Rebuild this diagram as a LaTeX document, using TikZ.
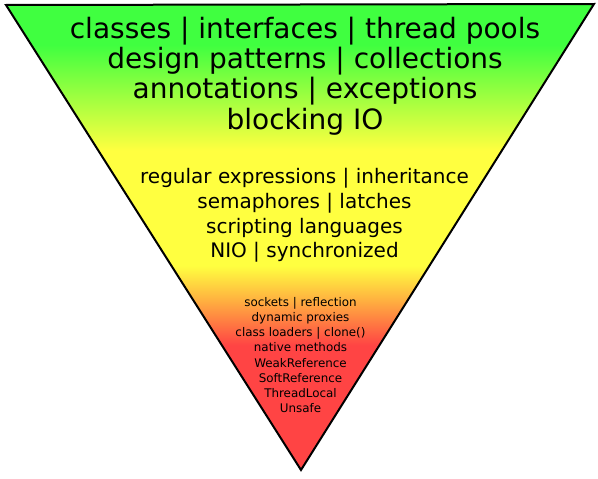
\documentclass[tikz,border=0pt]{standalone}
\usepackage{fontspec}
\setmainfont{DejaVu Sans}
\definecolor{pgreen}{HTML}{40FF40}
\definecolor{pyellow}{HTML}{FFFF40}
\definecolor{porange}{HTML}{FFB040}
\definecolor{pred}{HTML}{FF4444}
\pgfdeclareverticalshading{pyramid}{100bp}{%
  color(0bp)=(pred); color(25bp)=(pred); color(38.4bp)=(pred);
  color(43.2bp)=(porange); color(46.9bp)=(pyellow); color(59.3bp)=(pyellow);
  color(70.6bp)=(pgreen); color(75bp)=(pgreen); color(100bp)=(pgreen)}
\tikzset{
  lvl/.style={align=center, inner sep=0pt, text=black},
}
\begin{document}
\begin{tikzpicture}[x=1pt,y=-1pt]
\useasboundingbox (0,0) rectangle (598,479);
\coordinate (tl) at (6,5);
\coordinate (tr) at (594,4);
\coordinate (bt) at (301,470);
\shade[shading=pyramid] (tl) -- (tr) -- (bt) -- cycle;
\draw[line width=2pt, line join=miter] (tl) -- (tr) -- (bt) -- cycle;
\node[lvl, font=\fontsize{28}{30.2}\selectfont] (top) at (305,76)
  {classes | interfaces | thread pools\\design patterns | collections\\annotations | exceptions\\blocking IO};
\node[lvl, font=\fontsize{20}{24.6}\selectfont] (mid) at (304.5,215.5)
  {regular expressions | inheritance\\semaphores | latches\\scripting languages\\NIO | synchronized};
\node[lvl, font=\fontsize{11.9}{15.2}\selectfont] (low) at (300.5,355)
  {sockets | reflection\\dynamic proxies\\class loaders | clone()\\native methods\\WeakReference\\SoftReference\\ThreadLocal\\Unsafe};
\end{tikzpicture}
\end{document}
